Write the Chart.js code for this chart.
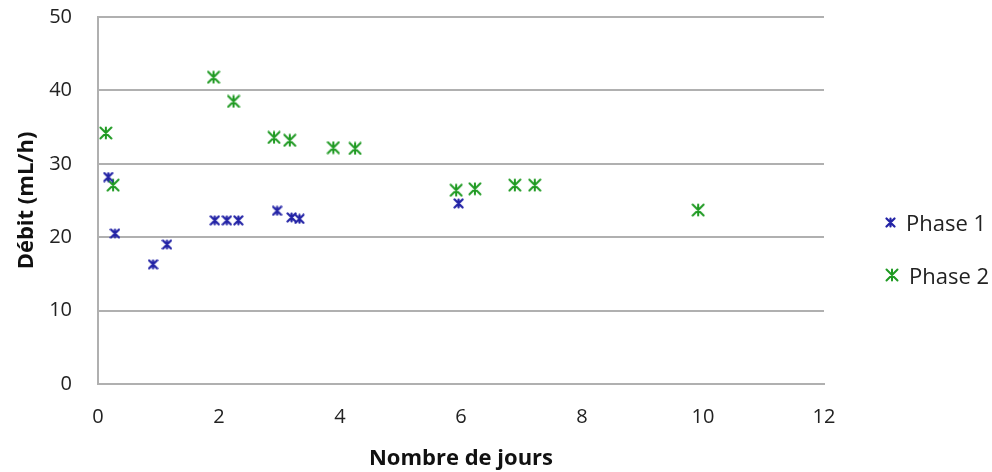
<!DOCTYPE html>
<html>
<head>
<meta charset="utf-8">
<script src="https://cdn.jsdelivr.net/npm/chart.js@4.4.0/dist/chart.umd.min.js"></script>
<style>
    html, body { margin: 0; padding: 0; background: #fff; }
    #wrap { width: 992px; height: 472px; position: relative; }
    #legend { position: absolute; left: 885px; top: 206px; font-family: "Open Sans", sans-serif; font-size: 22px; color: #222; }
    #legend .item { display: flex; align-items: center; height: 32px; margin-bottom: 21px; }
    #legend canvas { margin-right: 10px; }
</style>
</head>
<body>
<div id="wrap">
    <canvas id="chart" width="992" height="472"></canvas>
    <div id="legend"></div>
</div>
<script>
// Phase 1 (jours, débit)
const phase1Days = [0.17, 0.28, 0.91, 1.14, 1.93, 2.13, 2.32, 2.96, 3.20, 3.33, 5.96];
const phase1Flow = [28.2, 20.5, 16.3, 19.0, 22.3, 22.3, 22.3, 23.6, 22.7, 22.5, 24.6];

// Phase 2 (jours, débit)
const phase2Days = [0.13, 0.25, 1.91, 2.24, 2.91, 3.17, 3.89, 4.25, 5.92, 6.23, 6.89, 7.22, 9.92];
const phase2Flow = [34.2, 27.1, 41.8, 38.5, 33.6, 33.2, 32.2, 32.1, 26.4, 26.6, 27.1, 27.1, 23.7];

const xTicks = [0, 2, 4, 6, 8, 10, 12];
const yTicks = [0, 10, 20, 30, 40, 50];

const blue = '#2323a6';
const green = '#1f9a22';
const fontFamily = '"Open Sans", sans-serif';

// Excel-style star marker: X with a vertical bar
function starMarker(size, color, lw) {
    const c = document.createElement('canvas');
    c.width = size;
    c.height = size;
    const ctx = c.getContext('2d');
    ctx.strokeStyle = color;
    ctx.lineWidth = lw;
    ctx.lineCap = 'round';
    const p = 1.5, q = size - 1.5;
    ctx.beginPath();
    ctx.moveTo(p, p); ctx.lineTo(q, q);
    ctx.moveTo(q, p); ctx.lineTo(p, q);
    ctx.moveTo(size / 2, p); ctx.lineTo(size / 2, q);
    ctx.stroke();
    return c;
}

const marker1 = starMarker(11, blue, 2.2);
const marker2 = starMarker(14, green, 2);

function toPoints(xs, ys) {
    return xs.map((x, i) => ({ x: x, y: ys[i] }));
}

const chart = new Chart(document.getElementById('chart'), {
    type: 'scatter',
    data: {
        datasets: [{
            label: 'Phase 1',
            data: toPoints(phase1Days, phase1Flow),
            pointStyle: marker1,
            borderColor: blue,
            backgroundColor: blue
        }, {
            label: 'Phase 2',
            data: toPoints(phase2Days, phase2Flow),
            pointStyle: marker2,
            borderColor: green,
            backgroundColor: green
        }]
    },
    options: {
        responsive: false,
        animation: false,
        layout: { padding: { top: 17, right: 168, bottom: 0, left: 14 } },
        plugins: {
            tooltip: { enabled: false },
            legend: { display: false }
        },
        scales: {
            x: {
                type: 'linear',
                min: 0,
                max: 12,
                afterBuildTicks: axis => { axis.ticks = xTicks.map(v => ({ value: v })); },
                afterFit: axis => { axis.height = 88; },
                grid: { display: false, drawTicks: false },
                border: { color: '#b0b0b0', width: 2 },
                ticks: { padding: 21, color: '#222', font: { family: fontFamily, size: 20 } },
                title: {
                    display: true,
                    text: 'Nombre de jours',
                    color: '#111',
                    padding: { top: 16, bottom: 0 },
                    font: { family: fontFamily, size: 22, weight: 'bold' }
                }
            },
            y: {
                min: 0,
                max: 50,
                afterBuildTicks: axis => { axis.ticks = yTicks.map(v => ({ value: v })); },
                afterFit: axis => { axis.width = 84; axis.paddingTop = 0; axis.paddingBottom = 0; },
                grid: { color: '#b0b0b0', lineWidth: 2, drawTicks: false },
                border: { color: '#b0b0b0', width: 2 },
                ticks: { padding: 26, color: '#222', font: { family: fontFamily, size: 20 } },
                title: {
                    display: true,
                    text: 'Débit (mL/h)',
                    color: '#111',
                    padding: { top: 0, bottom: 9 },
                    font: { family: fontFamily, size: 22, weight: 'bold' }
                }
            }
        }
    }
});

// Legend built from the chart's datasets
const legendEl = document.getElementById('legend');
const markers = [marker1, marker2];
chart.data.datasets.forEach((ds, i) => {
    const item = document.createElement('div');
    item.className = 'item';
    const m = document.createElement('canvas');
    m.width = markers[i].width;
    m.height = markers[i].height;
    m.getContext('2d').drawImage(markers[i], 0, 0);
    const label = document.createElement('span');
    label.textContent = ds.label;
    item.appendChild(m);
    item.appendChild(label);
    legendEl.appendChild(item);
});
</script>
</body>
</html>
